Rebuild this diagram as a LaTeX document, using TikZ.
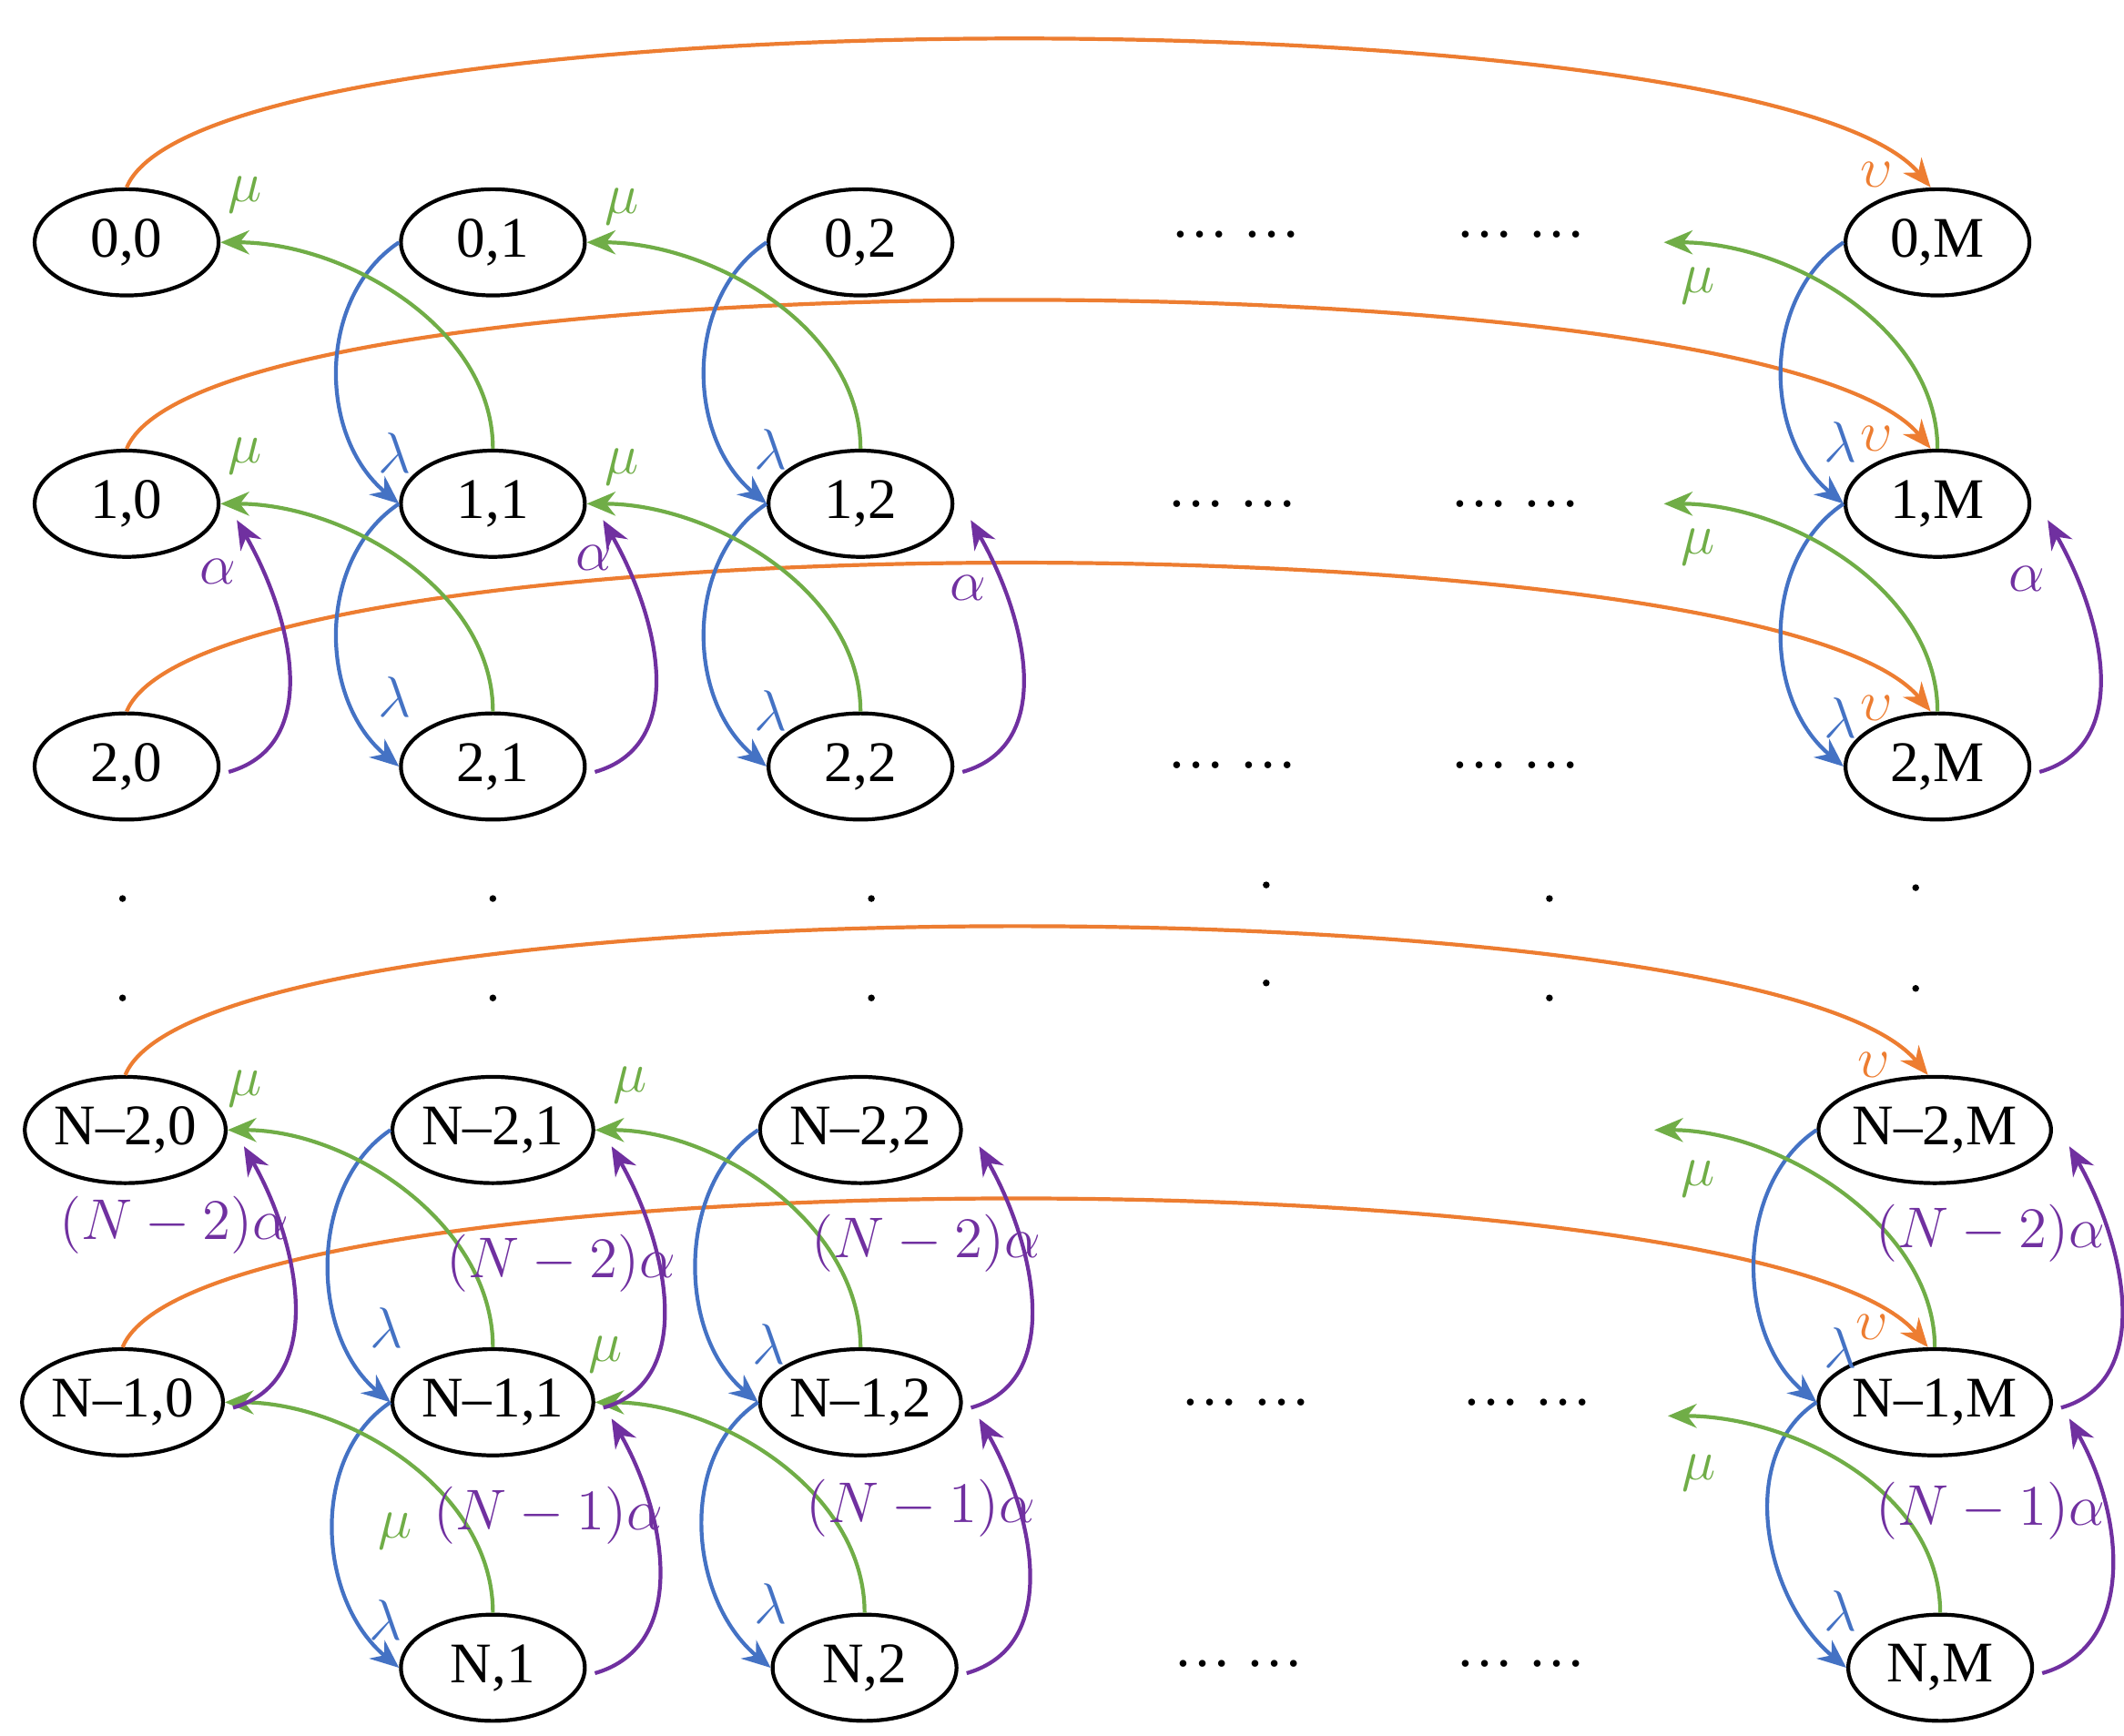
\documentclass[tikz,border=0pt]{standalone}
\usepackage{fontspec}
\setmainfont{Liberation Serif}
\usetikzlibrary{shapes.geometric,calc,arrows.meta}
\definecolor{cor}{HTML}{ED7D31}
\definecolor{cbl}{HTML}{4472C4}
\definecolor{cgr}{HTML}{70AD47}
\definecolor{cpu}{HTML}{7030A0}
\begin{document}
\begin{tikzpicture}[x=0.01cm,y=-0.01cm,
 st/.style={draw,thick,ellipse,minimum width=1.35cm,minimum height=0.78cm,inner sep=0pt,font=\fontsize{12}{14}\selectfont},
 ar/.style={-{Stealth[length=6pt,width=5pt]},line width=0.8pt},
 orr/.style={ar,cor}, blr/.style={ar,cbl}, grr/.style={ar,cgr}, pur/.style={ar,cpu},
 lab/.style={font=\fontsize{12}{14}\selectfont,inner sep=0pt},
 dts/.style={font=\fontsize{12}{14}\selectfont}]
\useasboundingbox (0,0) rectangle (1560,1275);
% nodes
\foreach \r/\y/\lab in {0/178/0,1/370/1,2/563/2}{
 \node[st] (n\r0) at (93,\y) {\lab,0};
 \node[st] (n\r1) at (362,\y) {\lab,1};
 \node[st] (n\r2) at (632,\y) {\lab,2};
 \node[st] (n\r M) at (1423,\y) {\lab,M};
}
\node[st] (na0) at (92,830) {N--2,0};
\node[st] (na1) at (362,830) {N--2,1};
\node[st] (na2) at (632,830) {N--2,2};
\node[st] (naM) at (1421,830) {N--2,M};
\node[st] (nb0) at (90,1030) {N--1,0};
\node[st] (nb1) at (362,1030) {N--1,1};
\node[st] (nb2) at (632,1030) {N--1,2};
\node[st] (nbM) at (1421,1030) {N--1,M};
\node[st] (nc1) at (362,1225) {N,1};
\node[st] (nc2) at (635,1225) {N,2};
\node[st] (ncM) at (1425,1225) {N,M};
% dots
\foreach \a/\b/\y in {908/1117/172,905/1113/370,905/1113/562,915/1122/1030,910/1117/1222}{
 \node[dts] (d\a\y) at (\a,\y) {\ldots\ \ldots};
 \node[dts] (e\b\y) at (\b,\y) {\ldots\ \ldots};
}
\foreach \x/\y in {90/660,362/660,640/660,930/650,1138/660,1407/652,90/733,362/733,640/733,930/722,1138/733,1407/726}
 \fill (\x,\y) circle (2.5);
% orange
\foreach \r in {0,1,2,a,b}
 \draw[orr] (n\r0.north) .. controls +(60,-144) and +(-120,-144) .. ($(n\r M.north)+(-5,0)$);
% blue
\foreach \a/\b in {01/11,11/21,02/12,12/22,0M/1M,1M/2M,a1/b1,b1/c1,a2/b2,b2/c2,aM/bM,bM/cM}
 \draw[blr] (n\a.west) .. controls +(-60,40) and +(-60,-50) .. (n\b.west);
% green
\coordinate (g0) at (1222,178);
\coordinate (g1) at (1222,370);
\coordinate (ga) at (1215,830);
\coordinate (gb) at (1225,1040);
\foreach \a/\b in {11/n00.east,12/n01.east,1M/g0,21/n10.east,22/n11.east,2M/g1,b1/na0.east,b2/na1.east,bM/ga,c1/nb0.east,c2/nb1.east,cM/gb}
 \draw[grr] (n\a.north) .. controls +(0,-90) and +(90,0) .. (\b);
% purple
\foreach \a/\b in {20/10,21/11,22/12,2M/1M,b0/a0,b1/a1,b2/a2,bM/aM,c1/b1,c2/b2,cM/bM}
 \draw[pur] ($(n\a.east)+(6,4)$) .. controls +(70,-20) and +(40,70) .. ($(n\b.east)+(12,12)$);
% labels
\foreach \x/\y in {180/143,457/152,1247/210,180/335,457/343,1247/402,180/800,463/797,1247/866,445/995,290/1125,1248/1082}
 \node[lab,text=cgr] (m\x\y) at (\x,\y) {$\mu$};
\foreach \x/\y in {290/333,566/330,1352/325,290/512,566/522,1352/527,284/975,565/987,1352/990,283/1190,566/1178,1352/1183}
 \node[lab,text=cbl] (l\x\y) at (\x,\y) {$\lambda$};
\foreach \x/\y in {1378/128,1378/322,1378/520,1376/782,1375/975}
 \node[lab,text=cor] (u\x\y) at (\x,\y) {$\upsilon$};
\foreach \x/\y in {160/420,436/410,711/432,1489/425}
 \node[lab,text=cpu] (p\x\y) at (\x,\y) {$\alpha$};
\foreach \x/\y in {128/900,412/928,680/913,1462/906}
 \node[lab,text=cpu] (q\x\y) at (\x,\y) {$(N-2)\alpha$};
\foreach \x/\y in {403/1113,676/1108,1462/1110}
 \node[lab,text=cpu] (s\x\y) at (\x,\y) {$(N-1)\alpha$};
\end{tikzpicture}
\end{document}
